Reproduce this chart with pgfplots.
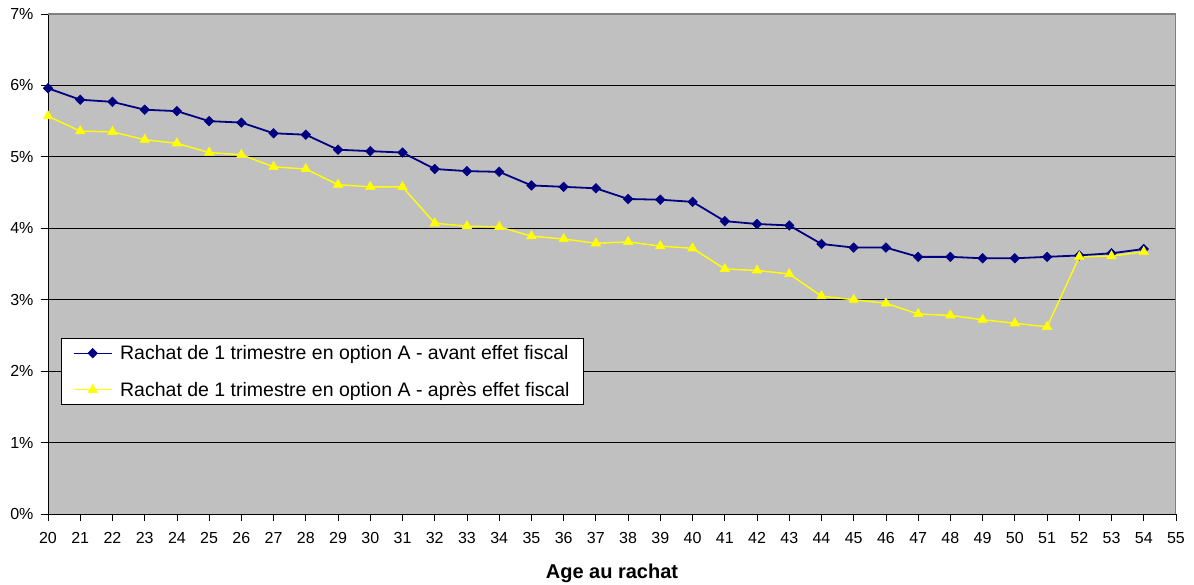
\documentclass[border=0pt]{standalone}
\usepackage{pgfplots}
\pgfplotsset{compat=1.18}
\usepackage{fontspec}
\setmainfont{Liberation Sans}

\definecolor{plotgray}{HTML}{C0C0C0}
\definecolor{framegray}{HTML}{808080}
\definecolor{navyline}{HTML}{000080}
\definecolor{yellowline}{HTML}{FFFF00}

\begin{document}
\begin{tikzpicture}
\useasboundingbox (-48pt,-71pt) rectangle (1146pt,514pt);
\begin{axis}[
  at={(0,0)}, anchor=south west,
  scale only axis,
  width=1128pt, height=500pt,
  xmin=20, xmax=55, ymin=0, ymax=7,
  xtick={20,...,55}, ytick={0,...,7},
  axis x line*=bottom, axis y line*=left,
  xtick pos=bottom, ytick pos=left,
  tick align=outside,
  major tick length=7pt,
  tick style={black, line width=0.8pt},
  axis line style={black, line width=0.9pt},
  ymajorgrids,
  major grid style={black, line width=0.8pt},
  axis background/.style={fill=plotgray},
  /pgf/number format/assume math mode=true,
  yticklabel={\pgfmathprintnumber{\tick}\%},
  ticklabel style={font=\fontsize{16}{19}\selectfont},
  xticklabel style={yshift=-8pt},
  yticklabel style={xshift=-4pt},
  xlabel={\bfseries Age au rachat},
  xlabel style={font=\fontsize{20}{24}\selectfont, yshift=-13pt},
  legend style={
    at={(0.0113,0.352)}, anchor=north west,
    draw=black, fill=white, line width=0.8pt,
    font=\fontsize{19.5}{23}\selectfont,
    inner xsep=12pt, inner ysep=5pt,
    row sep=17pt, column sep=6pt,
  },
  legend cell align=left,
  legend image code/.code={%
    \draw[#1, line width=1pt, mark=none] (0pt,0pt) -- (38pt,0pt);
    \draw[#1, line width=0.5pt] plot coordinates {(19pt,0pt)};
  },
]
\addplot[navyline, line width=1.8pt, mark=square*, mark size=3.4pt,
  mark options={rotate=45, fill=navyline, draw=navyline, line width=0.5pt}]
  coordinates {
  (20,5.96) (21,5.80) (22,5.77) (23,5.66) (24,5.64) (25,5.50) (26,5.48)
  (27,5.33) (28,5.31) (29,5.10) (30,5.08) (31,5.06) (32,4.83) (33,4.80)
  (34,4.79) (35,4.60) (36,4.58) (37,4.56) (38,4.41) (39,4.40) (40,4.37)
  (41,4.10) (42,4.06) (43,4.04) (44,3.78) (45,3.73) (46,3.73) (47,3.60)
  (48,3.60) (49,3.58) (50,3.58) (51,3.60) (52,3.62) (53,3.65) (54,3.71)
  };
\addlegendentry{Rachat de 1 trimestre en option A - avant effet fiscal}
\addplot[yellowline, line width=1.4pt, mark=triangle*, mark size=5.5pt,
  mark options={fill=yellowline, draw=yellowline, line width=0.5pt}]
  coordinates {
  (20,5.57) (21,5.36) (22,5.35) (23,5.24) (24,5.19) (25,5.06) (26,5.03)
  (27,4.86) (28,4.83) (29,4.61) (30,4.58) (31,4.58) (32,4.07) (33,4.03)
  (34,4.02) (35,3.89) (36,3.85) (37,3.79) (38,3.81) (39,3.75) (40,3.72)
  (41,3.43) (42,3.41) (43,3.36) (44,3.05) (45,3.00) (46,2.95) (47,2.80)
  (48,2.78) (49,2.72) (50,2.67) (51,2.62) (52,3.60) (53,3.61) (54,3.67)
  };
\addlegendentry{Rachat de 1 trimestre en option A - après effet fiscal}
% plot-area frame on the top and right sides
\draw[framegray, line width=1.2pt] (rel axis cs:0,1) -- (rel axis cs:1,1) -- (rel axis cs:1,0);
\end{axis}
\end{tikzpicture}
\end{document}
